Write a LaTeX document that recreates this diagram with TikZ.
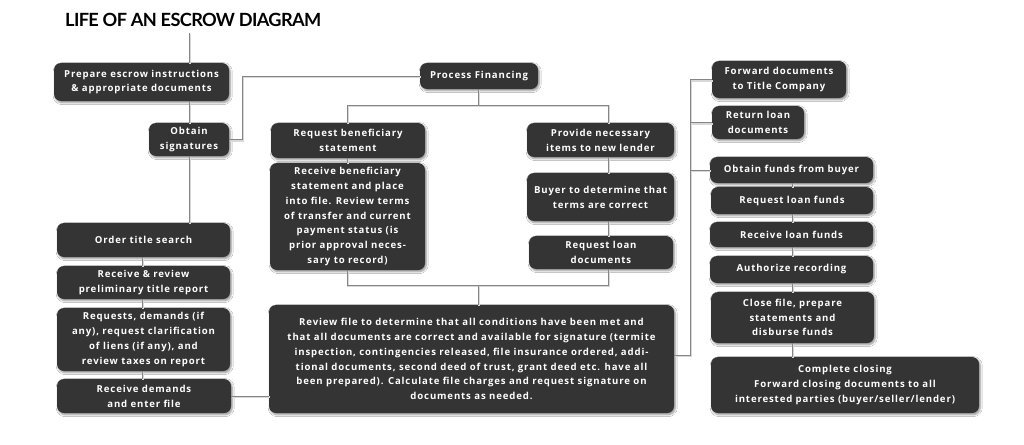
\documentclass[tikz,border=0pt]{standalone}
\usepackage{fontspec}
\setmainfont{Open Sans}
\newfontfamily\boxfont{Open Sans}[LetterSpace=9]
\newfontfamily\titlefont{Lato}[LetterSpace=-3.5]
\usetikzlibrary{shadows.blur}
\definecolor{boxc}{HTML}{343434}
\definecolor{linec}{HTML}{858585}
\definecolor{lshad}{HTML}{D8D8D8}
\tikzset{
  bx/.style={draw=none, fill=boxc, rounded corners=7pt, text=white, align=center, inner sep=0pt,
    font=\boxfont\bfseries\fontsize{9.6}{14.8}\selectfont,
    blur shadow={shadow xshift=1.2pt, shadow yshift=-1.6pt, shadow blur steps=6, shadow opacity=45, shadow blur radius=2pt}},
  conn/.style={draw=linec, line width=0.9pt,
    preaction={draw=lshad, line width=2pt, transform canvas={xshift=1pt,yshift=-1pt}}},
}
\begin{document}
\begin{tikzpicture}[x=1pt,y=-1pt]
\useasboundingbox (0,0) rectangle (1024,444);
\fill[white] (0,0) rectangle (1024,444);
\node[anchor=base west, inner sep=0pt, font=\titlefont\bfseries\fontsize{18.2}{22}\selectfont] (title) at (65,27) {LIFE OF AN ESCROW DIAGRAM};
\coordinate (t0) at (189,33);
\coordinate (lx) at (142,0);
\coordinate (mlx) at (347,0);
\coordinate (mrx) at (608,0);
\coordinate (mcx) at (478,0);
\coordinate (ry) at (690,0);
\coordinate (cx) at (792,0);
% left column
\node[bx, minimum width=175pt, minimum height=38pt] (prep) at (141.5,82) {Prepare escrow instructions\\\& appropriate documents};
\node[bx, minimum width=80pt, minimum height=33pt] (sig) at (189,139.5) {Obtain\\signatures};
\node[bx, minimum width=173pt, minimum height=34pt] (ots) at (143.5,240) {Order title search};
\node[bx, minimum width=173pt, minimum height=33pt] (rrp) at (143.5,282.5) {Receive \& review\\preliminary title report};
\node[bx, minimum width=173pt, minimum height=63pt] (req) at (143.5,339.5) {Requests, demands (if\\any), request clarification\\of liens (if any), and\\review taxes on report};
\node[bx, minimum width=174pt, minimum height=34pt] (rde) at (144,396) {Receive demands\\and enter file};
% middle
\node[bx, minimum width=118pt, minimum height=26pt] (pf) at (479,76) {Process Financing};
\node[bx, minimum width=154pt, minimum height=35pt] (rbs) at (348,140.5) {Request beneficiary\\statement};
\node[bx, minimum width=155pt, minimum height=107pt] (rbs2) at (347.5,216.5) {Receive beneficiary\\statement and place\\into file. Review terms\\of transfer and current\\payment status (is\\prior approval neces-\\sary to record)};
\node[bx, minimum width=147pt, minimum height=34pt] (pni) at (600.5,140) {Provide necessary\\items to new lender};
\node[bx, minimum width=147pt, minimum height=48pt] (buy) at (600.5,197) {Buyer to determine that\\terms are correct};
\node[bx, minimum width=144pt, minimum height=33pt] (rld) at (601,252.5) {Request loan\\documents};
\node[bx, minimum width=405pt, minimum height=108pt] (rev) at (471.5,359) {Review file to determine that all conditions have been met and\\that all documents are correct and available for signature (termite\\inspection, contingencies released, file insurance ordered, addi-\\tional documents, second deed of trust, grant deed etc. have all\\been prepared). Calculate file charges and request signature on\\documents as needed.};
% right
\node[bx, minimum width=134pt, minimum height=37pt] (fwd) at (779,79.5) {Forward documents\\to Title Company};
\node[bx, minimum width=92pt, minimum height=33pt] (ret) at (758,122.5) {Return loan\\documents};
\node[bx, minimum width=163pt, minimum height=26pt] (ofb) at (791.5,170) {Obtain funds from buyer};
\node[bx, minimum width=162pt, minimum height=27pt] (rlf) at (792,200.5) {Request loan funds};
\node[bx, minimum width=163pt, minimum height=25pt] (rcf) at (791.5,234.5) {Receive loan funds};
\node[bx, minimum width=163pt, minimum height=27pt] (aut) at (791.5,269.5) {Authorize recording};
\node[bx, minimum width=163pt, minimum height=51pt] (clo) at (792.5,317.5) {Close file, prepare\\statements and\\disburse funds};
\node[bx, minimum width=268pt, minimum height=56pt] (cmp) at (845,385) {Complete closing\\Forward closing documents to all\\interested parties (buyer/seller/lender)};
% connectors
\draw[conn] (t0) -- (t0 |- prep.north);
\draw[conn] (sig.north |- prep.south) -- (sig.north);
\draw[conn] (sig.south) -- (sig.south |- ots.north);
\draw[conn] (ots.south -| lx) -- (rrp.north -| lx);
\draw[conn] (rrp.south -| lx) -- (req.north -| lx);
\draw[conn] (req.south -| lx) -- (rde.north -| lx);
\draw[conn] (sig.east) -- ++(13,0) |- (pf.west);
\draw[conn] (pf.south -| mcx) -- ++(0,16) coordinate (j1);
\draw[conn] (rbs.north -| mlx) |- (j1) -| (pni.north -| mrx);
\draw[conn] (rbs.south -| mlx) -- (rbs2.north -| mlx);
\draw[conn] (pni.south -| mrx) -- (buy.north -| mrx);
\draw[conn] (buy.south -| mrx) -- (rld.north -| mrx);
\draw[conn] (rbs2.south -| mlx) -- ++(0,15) coordinate (j2) -| (rld.south -| mrx);
\draw[conn] (j2 -| mcx) -- (rev.north -| mcx);
\draw[conn] (rde.east) -- (rde.east -| rev.west);
\draw[conn] ([yshift=4pt]rev.east) -| (ry |- fwd.west) -- (fwd.west);
\draw[conn] (ry |- ret.west) -- (ret.west);
\draw[conn] (ry |- ofb.west) -- (ofb.west);
\draw[conn] (ofb.south -| cx) -- (rlf.north -| cx);
\draw[conn] (rlf.south -| cx) -- (rcf.north -| cx);
\draw[conn] (rcf.south -| cx) -- (aut.north -| cx);
\draw[conn] (aut.south -| cx) -- (clo.north -| cx);
\draw[conn] (clo.south -| cx) -- (cmp.north -| cx);
\end{tikzpicture}
\end{document}
